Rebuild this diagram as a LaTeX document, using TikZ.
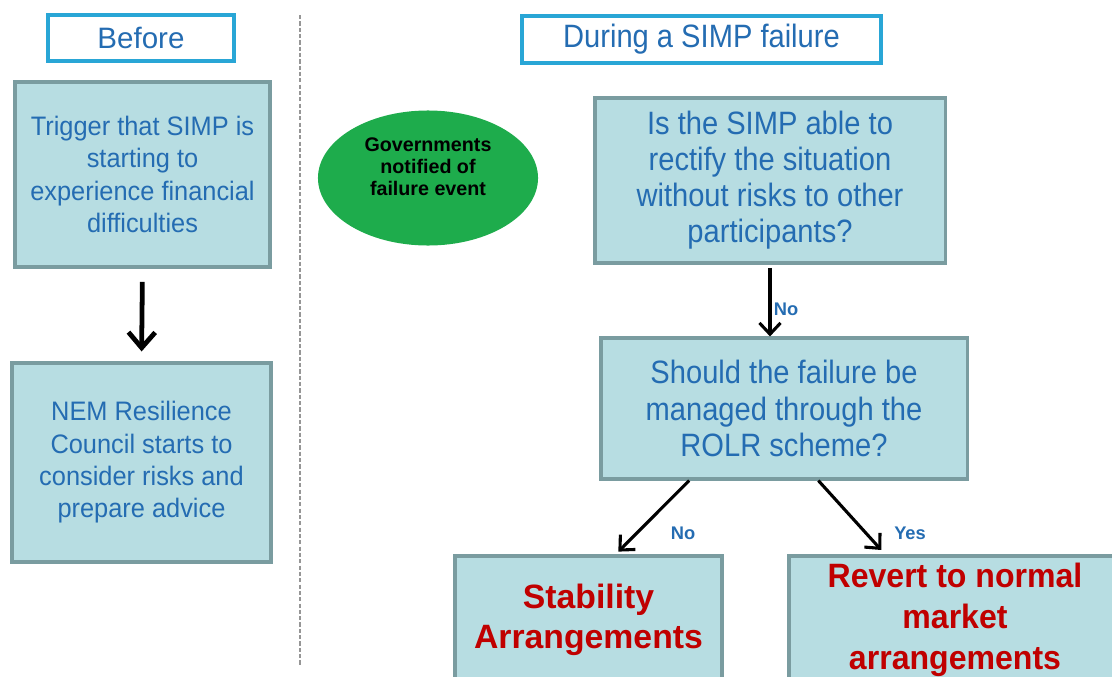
\documentclass[tikz,border=0pt]{standalone}
\usepackage{fontspec}
\setmainfont{Liberation Sans}
\newfontfamily\narrowfont{Liberation Sans}[FakeStretch=0.9]
\newfontfamily\tightfont{Liberation Sans}[FakeStretch=0.95]
\usetikzlibrary{shapes.geometric,arrows.meta,calc}

\definecolor{boxfill}{RGB}{183,221,226}
\definecolor{boxline}{RGB}{122,156,160}
\definecolor{headline}{RGB}{41,166,214}
\definecolor{txtblue}{RGB}{36,108,178}
\definecolor{govgreen}{RGB}{30,172,76}
\definecolor{darkred}{RGB}{192,0,0}
\definecolor{splitgray}{RGB}{150,150,150}

\tikzset{
  stepbox/.style={draw=boxline, line width=2.2pt, fill=boxfill, align=center,
    text=txtblue, inner sep=0pt},
  headbox/.style={draw=headline, line width=2.4pt, fill=white, text=txtblue,
    inner sep=0pt},
  govt/.style={ellipse, fill=govgreen, inner sep=0pt,
    minimum width=5.5cm, minimum height=3.375cm},
  flow/.style={line width=2.2pt, -{Straight Barb[length=8pt,width=15pt,line width=2.2pt]}},
  lab/.style={text=txtblue, font=\fontsize{13}{15}\selectfont\bfseries}
}

\begin{document}
\begin{tikzpicture}[x=0.025cm, y=-0.025cm]
    \useasboundingbox (0,0) rectangle (1112,677);
    \clip (0,0) rectangle (1112,677);

    % Trennlinie zwischen den beiden Phasen
    \coordinate (s0) at (300,15);
    \coordinate (s1) at (300,665);
    \draw[splitgray, line width=1pt, dash pattern=on 3pt off 1.5pt] (s0) -- (s1);

    % Linke Spalte: vorher
    \node[headbox, minimum width=4.65cm, minimum height=1.15cm,
      font=\fontsize{21}{25}\selectfont] (before) at (141,38) {Before};

    \node[stepbox, minimum width=6.375cm, minimum height=4.625cm,
      font=\tightfont\fontsize{19}{23}\selectfont] (trigger) at (142.5,174.5)
      {Trigger that SIMP is\\starting to\\experience financial\\difficulties};

    \node[stepbox, minimum width=6.475cm, minimum height=4.975cm,
      font=\tightfont\fontsize{19}{23}\selectfont] (nem) at (141.5,462.5)
      {NEM Resilience\\Council starts to\\consider risks and\\prepare advice};

    \draw[line width=3.4pt, -{Straight Barb[length=11pt,width=19pt,line width=3.4pt]},
      shorten <=0.33cm, shorten >=0.25cm] (trigger.south) -- (nem.north);

    % Rechte Spalte: waehrend des Ausfalls
    \node[headbox, minimum width=8.975cm, minimum height=1.175cm,
      font=\narrowfont\fontsize{23}{27}\selectfont] (during) at (701.5,39.5) {During a SIMP failure};

    \node[govt] (govt) at (428,178) {};
    \node[align=center, font=\fontsize{14}{15.6}\selectfont\bfseries] (govttext) at (428,167)
      {Governments\\notified of\\failure event};

    \node[stepbox, minimum width=8.75cm, minimum height=4.125cm,
      font=\narrowfont\fontsize{23}{25.6}\selectfont] (q1) at (770,180.5)
      {Is the SIMP able to\\rectify the situation\\without risks to other\\participants?};

    \node[stepbox, minimum width=9.15cm, minimum height=3.525cm,
      font=\narrowfont\fontsize{23}{26}\selectfont] (q2) at (784,408.5)
      {Should the failure be\\managed through the\\ROLR scheme?};

    \node[stepbox, minimum width=6.675cm, minimum height=3.2cm, text=darkred,
      font=\fontsize{24}{28.5}\selectfont\bfseries] (stab) at (588.5,620)
      {Stability\\Arrangements};

    \node[stepbox, minimum width=8.3cm, minimum height=3.2cm, text=darkred,
      font=\tightfont\fontsize{24}{29}\selectfont\bfseries] (revert) at (955,620)
      {Revert to normal\\market\\arrangements};

    % Pfeile zwischen den Fragen
    \draw[flow, shorten <=0.08cm] (q1.south) -- (q1.south |- q2.north);
    \draw[flow, shorten >=0.1cm] ($(q2.south west)!0.243!(q2.south east)$)
      -- ($(stab.north west)!0.6!(stab.north east)$);
    \draw[flow, shorten >=0.15cm] ($(q2.south west)!0.593!(q2.south east)$)
      -- ($(revert.north west)!0.292!(revert.north east)$);

    \node[lab] (no1) at (786,309) {No};
    \node[lab] (no2) at (683,533) {No};
    \node[lab] (yes) at (910,533) {Yes};
\end{tikzpicture}
\end{document}
